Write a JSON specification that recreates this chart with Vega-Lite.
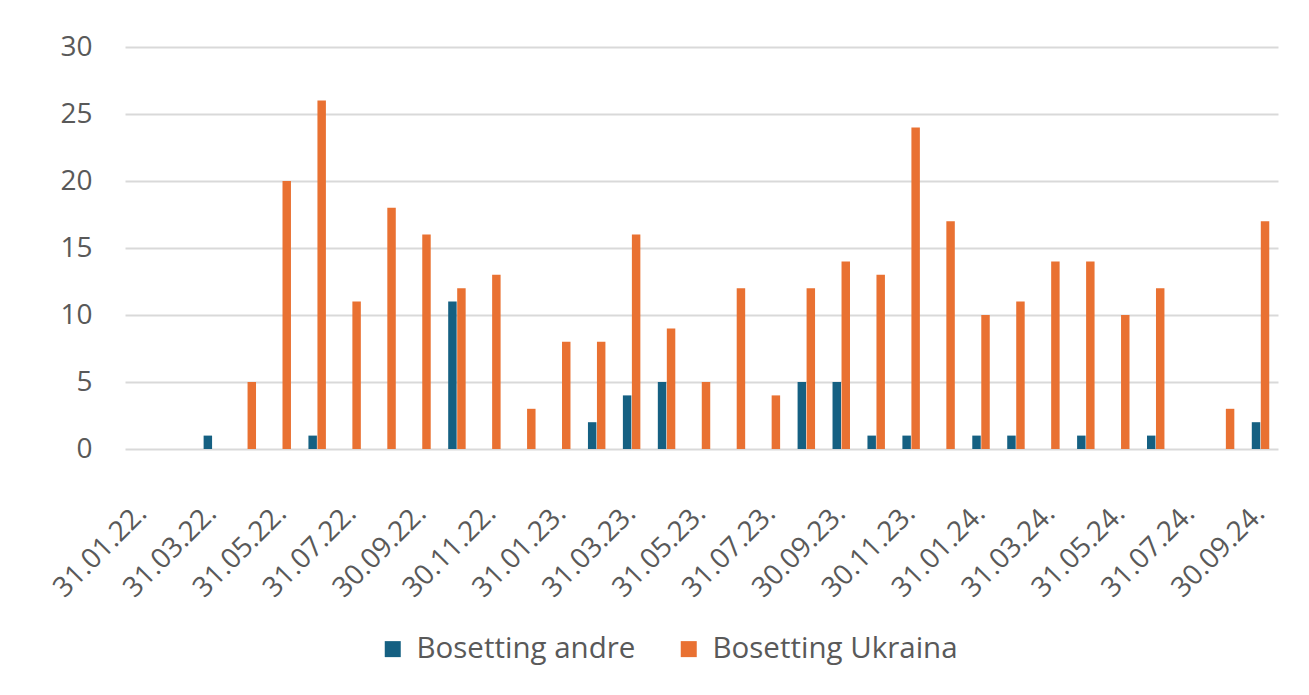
{
  "$schema": "https://vega.github.io/schema/vega-lite/v6.json",
  "width": 1153,
  "height": 402,
  "autosize": {"type": "none"},
  "padding": {"left": 125, "top": 47, "right": 31, "bottom": 246},
  "background": "white",
  "config": {"view": {"stroke": null}, "font": "Open Sans"},
  "datasets": {
    "d": [
      {"dato": "31.01.22.", "serie": "Bosetting andre", "verdi": 0}, {"dato": "31.01.22.", "serie": "Bosetting Ukraina", "verdi": 0},
      {"dato": "28.02.22.", "serie": "Bosetting andre", "verdi": 0}, {"dato": "28.02.22.", "serie": "Bosetting Ukraina", "verdi": 0},
      {"dato": "31.03.22.", "serie": "Bosetting andre", "verdi": 1}, {"dato": "31.03.22.", "serie": "Bosetting Ukraina", "verdi": 0},
      {"dato": "30.04.22.", "serie": "Bosetting andre", "verdi": 0}, {"dato": "30.04.22.", "serie": "Bosetting Ukraina", "verdi": 5},
      {"dato": "31.05.22.", "serie": "Bosetting andre", "verdi": 0}, {"dato": "31.05.22.", "serie": "Bosetting Ukraina", "verdi": 20},
      {"dato": "30.06.22.", "serie": "Bosetting andre", "verdi": 1}, {"dato": "30.06.22.", "serie": "Bosetting Ukraina", "verdi": 26},
      {"dato": "31.07.22.", "serie": "Bosetting andre", "verdi": 0}, {"dato": "31.07.22.", "serie": "Bosetting Ukraina", "verdi": 11},
      {"dato": "31.08.22.", "serie": "Bosetting andre", "verdi": 0}, {"dato": "31.08.22.", "serie": "Bosetting Ukraina", "verdi": 18},
      {"dato": "30.09.22.", "serie": "Bosetting andre", "verdi": 0}, {"dato": "30.09.22.", "serie": "Bosetting Ukraina", "verdi": 16},
      {"dato": "31.10.22.", "serie": "Bosetting andre", "verdi": 11}, {"dato": "31.10.22.", "serie": "Bosetting Ukraina", "verdi": 12},
      {"dato": "30.11.22.", "serie": "Bosetting andre", "verdi": 0}, {"dato": "30.11.22.", "serie": "Bosetting Ukraina", "verdi": 13},
      {"dato": "31.12.22.", "serie": "Bosetting andre", "verdi": 0}, {"dato": "31.12.22.", "serie": "Bosetting Ukraina", "verdi": 3},
      {"dato": "31.01.23.", "serie": "Bosetting andre", "verdi": 0}, {"dato": "31.01.23.", "serie": "Bosetting Ukraina", "verdi": 8},
      {"dato": "28.02.23.", "serie": "Bosetting andre", "verdi": 2}, {"dato": "28.02.23.", "serie": "Bosetting Ukraina", "verdi": 8},
      {"dato": "31.03.23.", "serie": "Bosetting andre", "verdi": 4}, {"dato": "31.03.23.", "serie": "Bosetting Ukraina", "verdi": 16},
      {"dato": "30.04.23.", "serie": "Bosetting andre", "verdi": 5}, {"dato": "30.04.23.", "serie": "Bosetting Ukraina", "verdi": 9},
      {"dato": "31.05.23.", "serie": "Bosetting andre", "verdi": 0}, {"dato": "31.05.23.", "serie": "Bosetting Ukraina", "verdi": 5},
      {"dato": "30.06.23.", "serie": "Bosetting andre", "verdi": 0}, {"dato": "30.06.23.", "serie": "Bosetting Ukraina", "verdi": 12},
      {"dato": "31.07.23.", "serie": "Bosetting andre", "verdi": 0}, {"dato": "31.07.23.", "serie": "Bosetting Ukraina", "verdi": 4},
      {"dato": "31.08.23.", "serie": "Bosetting andre", "verdi": 5}, {"dato": "31.08.23.", "serie": "Bosetting Ukraina", "verdi": 12},
      {"dato": "30.09.23.", "serie": "Bosetting andre", "verdi": 5}, {"dato": "30.09.23.", "serie": "Bosetting Ukraina", "verdi": 14},
      {"dato": "31.10.23.", "serie": "Bosetting andre", "verdi": 1}, {"dato": "31.10.23.", "serie": "Bosetting Ukraina", "verdi": 13},
      {"dato": "30.11.23.", "serie": "Bosetting andre", "verdi": 1}, {"dato": "30.11.23.", "serie": "Bosetting Ukraina", "verdi": 24},
      {"dato": "31.12.23.", "serie": "Bosetting andre", "verdi": 0}, {"dato": "31.12.23.", "serie": "Bosetting Ukraina", "verdi": 17},
      {"dato": "31.01.24.", "serie": "Bosetting andre", "verdi": 1}, {"dato": "31.01.24.", "serie": "Bosetting Ukraina", "verdi": 10},
      {"dato": "29.02.24.", "serie": "Bosetting andre", "verdi": 1}, {"dato": "29.02.24.", "serie": "Bosetting Ukraina", "verdi": 11},
      {"dato": "31.03.24.", "serie": "Bosetting andre", "verdi": 0}, {"dato": "31.03.24.", "serie": "Bosetting Ukraina", "verdi": 14},
      {"dato": "30.04.24.", "serie": "Bosetting andre", "verdi": 1}, {"dato": "30.04.24.", "serie": "Bosetting Ukraina", "verdi": 14},
      {"dato": "31.05.24.", "serie": "Bosetting andre", "verdi": 0}, {"dato": "31.05.24.", "serie": "Bosetting Ukraina", "verdi": 10},
      {"dato": "30.06.24.", "serie": "Bosetting andre", "verdi": 1}, {"dato": "30.06.24.", "serie": "Bosetting Ukraina", "verdi": 12},
      {"dato": "31.07.24.", "serie": "Bosetting andre", "verdi": 0}, {"dato": "31.07.24.", "serie": "Bosetting Ukraina", "verdi": 0},
      {"dato": "31.08.24.", "serie": "Bosetting andre", "verdi": 0}, {"dato": "31.08.24.", "serie": "Bosetting Ukraina", "verdi": 3},
      {"dato": "30.09.24.", "serie": "Bosetting andre", "verdi": 2}, {"dato": "30.09.24.", "serie": "Bosetting Ukraina", "verdi": 17}
    ]
  },
  "data": {"name": "d"},
  "mark": {"type": "bar"},
  "encoding": {
    "x": {
      "field": "dato",
      "type": "ordinal",
      "sort": null,
      "scale": {"paddingInner": 0.5, "paddingOuter": 0.25},
      "axis": {
        "title": null,
        "values": ["31.01.22.", "31.03.22.", "31.05.22.", "31.07.22.", "30.09.22.", "30.11.22.", "31.01.23.", "31.03.23.", "31.05.23.", "31.07.23.", "30.09.23.", "30.11.23.", "31.01.24.", "31.03.24.", "31.05.24.", "31.07.24.", "30.09.24."],
        "domain": false,
        "ticks": false,
        "labelAngle": -45,
        "labelAlign": "right",
        "labelBaseline": "middle",
        "labelPadding": 60,
        "labelFontSize": 28,
        "labelColor": "#595959",
        "labelOverlap": false
      }
    },
    "xOffset": {
      "field": "serie",
      "type": "nominal",
      "sort": ["Bosetting andre", "Bosetting Ukraina"],
      "scale": {"paddingInner": 0.06}
    },
    "y": {
      "field": "verdi",
      "type": "quantitative",
      "scale": {"domain": [0, 30]},
      "axis": {
        "title": null,
        "values": [0, 5, 10, 15, 20, 25, 30],
        "domain": false,
        "ticks": false,
        "gridColor": "#d9d9d9",
        "gridWidth": 2,
        "labelFontSize": 28,
        "labelColor": "#595959",
        "labelPadding": 33
      }
    },
    "color": {
      "field": "serie",
      "type": "nominal",
      "scale": {"domain": ["Bosetting andre", "Bosetting Ukraina"], "range": ["#156082", "#E97132"]},
      "legend": {
        "title": null,
        "orient": "none",
        "legendX": 253,
        "legendY": 587,
        "direction": "horizontal",
        "symbolType": "square",
        "symbolSize": 256,
        "symbolStrokeWidth": 0,
        "labelFontSize": 29.5,
        "labelLimit": 0,
        "labelColor": "#595959",
        "labelOffset": 9,
        "columnPadding": 38
      }
    }
  }
}
